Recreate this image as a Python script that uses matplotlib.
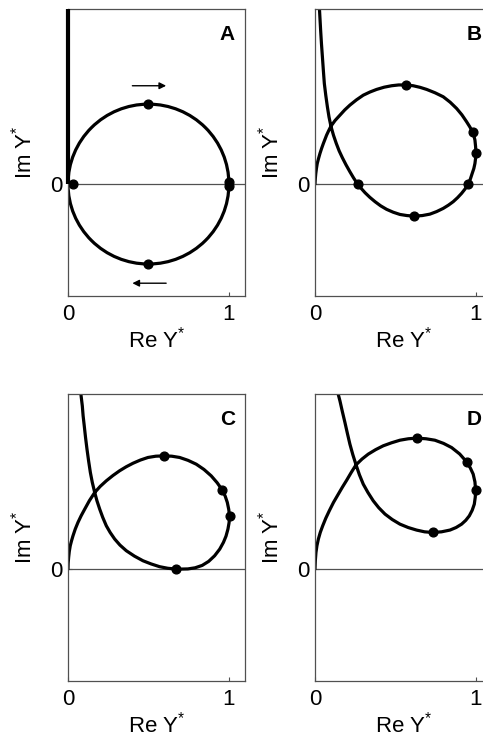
import matplotlib
matplotlib.use('Agg')
import matplotlib.pyplot as plt
from matplotlib.patches import Circle

plt.rcParams['font.family'] = ['Liberation Sans', 'DejaVu Sans']
plt.rcParams['mathtext.default'] = 'regular'

# shared axes setup
RE_LIM = (0.0, 1.1)
IM_LIM = (-0.70, 1.095)
X_TICKS = [0, 1]
Y_TICKS = [0]

# A: circular loop plus the branch running up the imaginary axis
a_center = (0.5, 0.0)
a_radius = 0.5
a_branch_re = [0.0, 0.0]
a_branch_im = [0.0, 1.095]
a_dot_re = [0.03, 0.5, 1.0, 1.0, 0.5]
a_dot_im = [0.0, 0.5, 0.012, -0.01, -0.5]
a_arrow_re = [0.40, 0.61]
a_arrow_im = [0.615, -0.62]

# B
b_re = [0.000, 0.002, 0.005, 0.009, 0.014, 0.022, 0.031, 0.041, 0.052, 0.062,
        0.072, 0.085, 0.099, 0.125, 0.155, 0.185, 0.217, 0.258, 0.300, 0.342,
        0.383, 0.430, 0.476, 0.520, 0.563, 0.610, 0.653, 0.694, 0.746, 0.797,
        0.840, 0.880, 0.913, 0.942, 0.962, 0.979, 0.988, 0.994, 0.998, 1.000,
        0.998, 0.994, 0.987, 0.977, 0.966, 0.952, 0.933, 0.911, 0.886, 0.859,
        0.829, 0.797, 0.756, 0.714, 0.666, 0.617, 0.572, 0.528, 0.486, 0.445,
        0.408, 0.373, 0.341, 0.311, 0.287, 0.265, 0.240, 0.217, 0.193, 0.170,
        0.150, 0.132, 0.115, 0.099, 0.087, 0.077, 0.067, 0.058, 0.052, 0.046,
        0.040, 0.035, 0.031, 0.027]
b_im = [0.000, 0.035, 0.067, 0.098, 0.129, 0.160, 0.192, 0.223, 0.254, 0.280,
        0.306, 0.334, 0.362, 0.398, 0.431, 0.464, 0.494, 0.527, 0.556, 0.576,
        0.592, 0.606, 0.615, 0.620, 0.620, 0.615, 0.605, 0.592, 0.571, 0.546,
        0.512, 0.473, 0.433, 0.390, 0.358, 0.327, 0.300, 0.275, 0.235, 0.196,
        0.162, 0.129, 0.097, 0.067, 0.033, 0.000, -0.030, -0.058, -0.085, -0.110,
        -0.132, -0.152, -0.172, -0.188, -0.197, -0.200, -0.197, -0.190, -0.176, -0.158,
        -0.136, -0.110, -0.083, -0.054, -0.027, 0.000, 0.038, 0.077, 0.120, 0.165,
        0.208, 0.255, 0.305, 0.362, 0.420, 0.483, 0.555, 0.629, 0.710, 0.796,
        0.880, 0.962, 1.035, 1.108]
b_dot_re = [0.563, 0.979, 1.0, 0.952, 0.617, 0.265]
b_dot_im = [0.620, 0.327, 0.196, 0.0, -0.200, 0.0]

# C
c_re = [0.000, 0.001, 0.004, 0.008, 0.014, 0.022, 0.031, 0.045, 0.062, 0.082,
        0.104, 0.133, 0.166, 0.200, 0.238, 0.279, 0.321, 0.362, 0.404, 0.450,
        0.497, 0.546, 0.596, 0.645, 0.694, 0.746, 0.797, 0.845, 0.890, 0.927,
        0.959, 0.977, 0.990, 0.999, 1.004, 1.001, 0.994, 0.982, 0.966, 0.943,
        0.911, 0.874, 0.834, 0.790, 0.745, 0.700, 0.673, 0.620, 0.569, 0.517,
        0.466, 0.413, 0.362, 0.323, 0.290, 0.262, 0.238, 0.216, 0.197, 0.180,
        0.166, 0.151, 0.139, 0.128, 0.118, 0.109, 0.101, 0.094, 0.089, 0.083,
        0.079]
c_im = [0.000, 0.037, 0.073, 0.110, 0.146, 0.177, 0.208, 0.250, 0.292, 0.334,
        0.375, 0.428, 0.479, 0.517, 0.552, 0.585, 0.615, 0.640, 0.662, 0.682,
        0.698, 0.706, 0.708, 0.706, 0.698, 0.680, 0.656, 0.623, 0.583, 0.540,
        0.494, 0.456, 0.417, 0.373, 0.329, 0.290, 0.250, 0.206, 0.167, 0.125,
        0.083, 0.048, 0.023, 0.008, 0.001, 0.000, 0.000, 0.005, 0.015, 0.032,
        0.052, 0.081, 0.115, 0.150, 0.188, 0.229, 0.271, 0.323, 0.375, 0.427,
        0.479, 0.542, 0.604, 0.677, 0.750, 0.823, 0.896, 0.958, 1.020, 1.070,
        1.104]
c_dot_re = [0.596, 0.959, 1.004, 0.673]
c_dot_im = [0.708, 0.494, 0.329, 0.0]

# D
d_re = [0.000, 0.002, 0.006, 0.012, 0.021, 0.033, 0.048, 0.067, 0.089, 0.115,
        0.145, 0.170, 0.197, 0.225, 0.255, 0.292, 0.331, 0.377, 0.424, 0.476,
        0.528, 0.580, 0.631, 0.690, 0.745, 0.799, 0.849, 0.899, 0.942, 0.965,
        0.983, 0.994, 0.998, 0.996, 0.990, 0.977, 0.959, 0.937, 0.911, 0.877,
        0.839, 0.786, 0.731, 0.681, 0.631, 0.579, 0.528, 0.480, 0.435, 0.396,
        0.362, 0.329, 0.300, 0.276, 0.255, 0.235, 0.217, 0.201, 0.186, 0.170,
        0.155, 0.140]
d_im = [0.000, 0.052, 0.104, 0.146, 0.188, 0.230, 0.271, 0.318, 0.365, 0.417,
        0.469, 0.512, 0.556, 0.604, 0.652, 0.688, 0.719, 0.747, 0.771, 0.790,
        0.806, 0.815, 0.819, 0.815, 0.806, 0.786, 0.760, 0.720, 0.671, 0.633,
        0.594, 0.545, 0.494, 0.450, 0.406, 0.368, 0.333, 0.305, 0.281, 0.260,
        0.244, 0.233, 0.229, 0.233, 0.244, 0.260, 0.281, 0.310, 0.344, 0.384,
        0.427, 0.479, 0.531, 0.590, 0.652, 0.716, 0.781, 0.850, 0.917, 0.985,
        1.052, 1.110]
d_dot_re = [0.631, 0.942, 0.998, 0.731]
d_dot_im = [0.819, 0.671, 0.494, 0.229]

LINE_KW = dict(color='black', lw=2.3, solid_joinstyle='round', solid_capstyle='round')
DOT_KW = dict(ls='none', marker='o', ms=6.3, color='black')
FRAME = '#505050'


def setup_axes(fig, rect, letter):
    ax = fig.add_axes(rect)
    ax.set_xlim(*RE_LIM)
    ax.set_ylim(*IM_LIM)
    ax.axhline(0, color=FRAME, lw=0.9, zorder=1)
    for s in ax.spines.values():
        s.set_color(FRAME)
        s.set_linewidth(0.9)
    ax.set_xticks(X_TICKS)
    ax.set_xticklabels([str(t) for t in X_TICKS])
    ax.set_yticks(Y_TICKS)
    ax.set_yticklabels([str(t) for t in Y_TICKS])
    ax.tick_params(direction='in', length=3, width=0.8, color=FRAME,
                   labelsize=16, top=False, right=False)
    ax.tick_params(axis='x', pad=6)
    ax.tick_params(axis='y', pad=4)
    ax.set_xlabel('Re Y$^{*}$', fontsize=16, labelpad=1)
    ax.set_ylabel('Im Y$^{*}$', fontsize=16, labelpad=10)
    ax.text(0.944, 0.944, letter, transform=ax.transAxes, ha='right', va='top',
            fontsize=15, fontweight='bold')
    return ax


fig = plt.figure(figsize=(4.83, 7.40), dpi=100)
w, h = 177 / 483, 287 / 740
ax_a = setup_axes(fig, [68 / 483, 1 - 296 / 740, w, h], 'A')
ax_b = setup_axes(fig, [315 / 483, 1 - 296 / 740, w, h], 'B')
ax_c = setup_axes(fig, [68 / 483, 1 - 681 / 740, w, h], 'C')
ax_d = setup_axes(fig, [315 / 483, 1 - 681 / 740, w, h], 'D')

# A
ax_a.add_patch(Circle(a_center, a_radius, fill=False, ec='black', lw=2.3))
# drawn above the left spine so the branch shows as one solid stroke
ax_a.plot(a_branch_re, a_branch_im, color='black', lw=3.0, solid_capstyle='butt',
          clip_on=False, zorder=4)
ax_a.plot(a_dot_re, a_dot_im, **DOT_KW)
arrow_kw = dict(arrowstyle='-|>', color='black', lw=1.0, mutation_scale=10,
                shrinkA=0, shrinkB=0)
ax_a.annotate('', xy=(a_arrow_re[1], a_arrow_im[0]), xytext=(a_arrow_re[0], a_arrow_im[0]),
              arrowprops=arrow_kw)
ax_a.annotate('', xy=(a_arrow_re[0], a_arrow_im[1]), xytext=(a_arrow_re[1], a_arrow_im[1]),
              arrowprops=arrow_kw)

# B, C, D
for ax, re, im, dre, dim in [(ax_b, b_re, b_im, b_dot_re, b_dot_im),
                             (ax_c, c_re, c_im, c_dot_re, c_dot_im),
                             (ax_d, d_re, d_im, d_dot_re, d_dot_im)]:
    ax.plot(re, im, **LINE_KW)
    ax.plot(dre, dim, **DOT_KW)

fig.savefig('out.png', dpi=100)
